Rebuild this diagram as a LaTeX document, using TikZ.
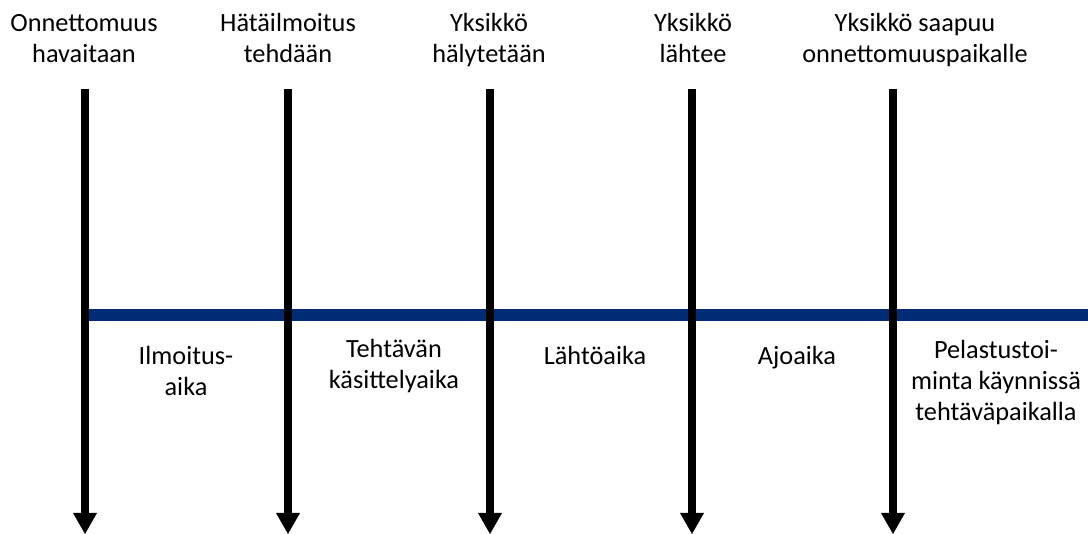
\documentclass[tikz,border=0pt]{standalone}
\usepackage{fontspec}
\setmainfont{Carlito}
\usetikzlibrary{arrows.meta}
\definecolor{timeblue}{RGB}{0,43,117}
\begin{document}
\begin{tikzpicture}[x=1pt,y=-1pt,
  evarrow/.style={line width=8pt,-{Triangle[width=24pt,length=21pt,line width=0pt]}},
  timeline/.style={line width=12pt,draw=timeblue},
  lbl/.style={anchor=base,align=center,inner sep=0pt,font=\fontsize{26.3}{31}\selectfont}]
\useasboundingbox (0,0) rectangle (1088,534);
% timeline
\coordinate (t0) at (89,315);
\coordinate (t1) at (1088,315);
\draw[timeline] (t0) -- (t1);
% arrows
\foreach \i/\x in {1/85,2/288,3/490,4/692,5/893}{
  \coordinate (a\i top) at (\x,89);
  \coordinate (a\i bot) at (\x,534);
  \draw[evarrow] (a\i top) -- (a\i bot);
}
% top labels (anchor = baseline of last line)
\node[lbl] (e1) at (84,63) {Onnettomuus\\havaitaan};
\node[lbl] (e2) at (288,63) {Hätäilmoitus\\tehdään};
\node[lbl] (e3) at (489,63) {Yksikkö\\hälytetään};
\node[lbl] (e4) at (693,63) {Yksikkö\\lähtee};
\node[lbl] (e5) at (915,63) {Yksikkö saapuu\\onnettomuuspaikalle};
% interval labels
\node[lbl] (p1) at (186,396) {Ilmoitus-\\aika};
\node[lbl] (p2) at (394,389) {Tehtävän\\käsittelyaika};
\node[lbl] (p3) at (595,365) {Lähtöaika};
\node[lbl] (p4) at (797,365) {Ajoaika};
\node[lbl] (p5) at (996,421) {Pelastustoi-\\minta käynnissä\\tehtäväpaikalla};
\end{tikzpicture}
\end{document}
